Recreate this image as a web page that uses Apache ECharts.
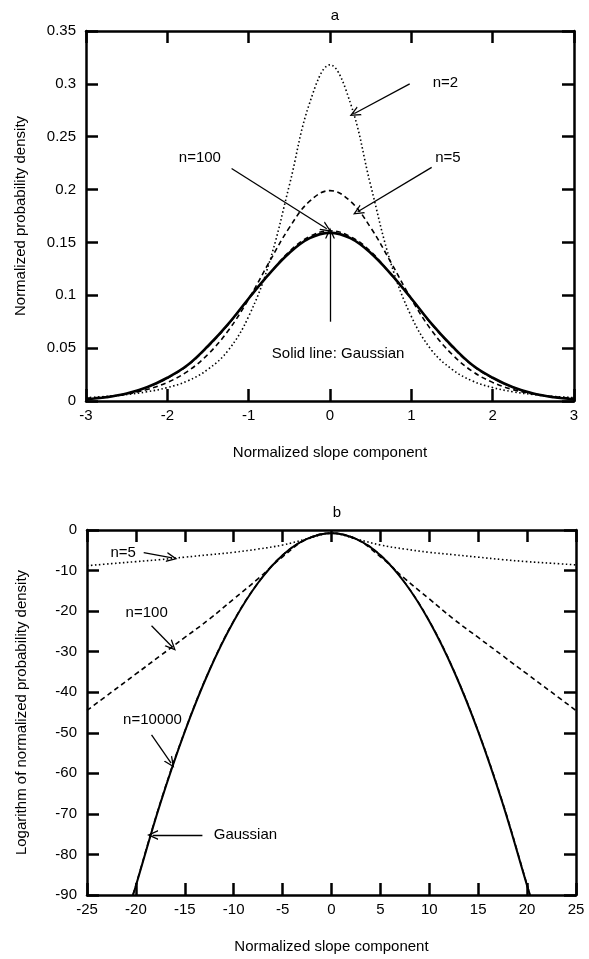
<!DOCTYPE html>
<html>
<head>
<meta charset="utf-8">
<script src="https://cdn.jsdelivr.net/npm/echarts@6/dist/echarts.min.js"></script>
<style>
  html, body { margin: 0; padding: 0; background: #fff; }
  #main { width: 589px; height: 959px; }
</style>
</head>
<body>
<div id="main"></div>
<script>
// panel a: density vs slope component
var xA = [-3, -2.75, -2.5, -2.25, -2, -1.75, -1.5, -1.25, -1, -0.75, -0.5, -0.25, 0,
  0.25, 0.5, 0.75, 1, 1.25, 1.5, 1.75, 2, 2.25, 2.5, 2.75, 3]
var gaussA = [0.0018, 0.0036, 0.007, 0.013, 0.022, 0.034, 0.052, 0.073, 0.097, 0.120, 0.140, 0.154, 0.159,
  0.154, 0.140, 0.120, 0.097, 0.073, 0.052, 0.034, 0.022, 0.013, 0.007, 0.0036, 0.0018]
var n2A = [0.0032, 0.0043, 0.0061, 0.0087, 0.0127, 0.019, 0.030, 0.048, 0.080, 0.130, 0.204, 0.282, 0.318,
  0.282, 0.204, 0.130, 0.080, 0.048, 0.030, 0.019, 0.0127, 0.0087, 0.0061, 0.0043, 0.0032]
var n5A = [0.0025, 0.0040, 0.0066, 0.0108, 0.0176, 0.0281, 0.0442, 0.0667, 0.0964, 0.131, 0.164, 0.189, 0.199,
  0.189, 0.164, 0.131, 0.0964, 0.0667, 0.0442, 0.0281, 0.0176, 0.0108, 0.0066, 0.0040, 0.0025]
var n100A = [0.0019, 0.0037, 0.0071, 0.0131, 0.0215, 0.0336, 0.0514, 0.0725, 0.0967, 0.1196, 0.1415, 0.1556, 0.161,
  0.1556, 0.1415, 0.1196, 0.0967, 0.0725, 0.0514, 0.0336, 0.0215, 0.0131, 0.0071, 0.0037, 0.0019]

// panel b: log10 of density
var xB = [-25, -22.5, -20, -17.5, -15, -12.5, -10, -7.5, -5, -2.5, 0,
  2.5, 5, 7.5, 10, 12.5, 15, 17.5, 20, 22.5, 25]
var n5B = [-8.8, -8.3, -7.8, -7.3, -6.7, -6.1, -5.5, -4.7, -3.7, -2.2, -0.8,
  -2.2, -3.7, -4.7, -5.5, -6.1, -6.7, -7.3, -7.8, -8.2, -8.6]
var n100B = [-44.5, -40, -35.5, -31, -26.5, -22, -17, -12, -6.6, -2.2, -0.8,
  -2.2, -6.6, -12, -17, -22, -26.5, -31, -35.5, -40, -44.5]
var xGaussB = [-20.3, -20, -17.5, -15, -12.5, -10, -7.5, -5, -2.5, 0,
  2.5, 5, 7.5, 10, 12.5, 15, 17.5, 20, 20.3]
var gaussB = [-90, -87.7, -67.4, -49.7, -34.7, -22.5, -13.0, -6.2, -2.2, -0.8,
  -2.2, -6.2, -13.0, -22.5, -34.7, -49.7, -67.4, -87.7, -90]
var n10000B = [-90, -87.5, -67.2, -49.6, -34.6, -22.4, -13.0, -6.2, -2.2, -0.8,
  -2.2, -6.2, -13.0, -22.4, -34.6, -49.6, -67.2, -87.5, -90]

// annotation texts and arrows (data coords)
var labelsA = [
  { name: 'n=2', value: [1.42, 0.301] },
  { name: 'n=5', value: [1.45, 0.230] },
  { name: 'n=100', value: [-1.6, 0.230] },
  { name: 'Solid line: Gaussian', value: [0.1, 0.045] }
]
var arrowsA = [
  [[0.98, 0.300], [0.30, 0.272]],
  [[1.25, 0.221], [0.34, 0.179]],
  [[-1.21, 0.220], [-0.04, 0.163]],
  [[0, 0.075], [0, 0.159]]
]
var labelsB = [
  { name: 'n=5', value: [-21.3, -5.6] },
  { name: 'n=100', value: [-18.9, -20.5] },
  { name: 'n=10000', value: [-18.3, -46.8] },
  { name: 'Gaussian', value: [-8.8, -75.2] }
]
var arrowsB = [
  [[-19.2, -5.6], [-16.3, -6.9]],
  [[-18.4, -23.6], [-16.3, -28.8]],
  [[-18.4, -50.5], [-16.4, -57.5]],
  [[-13.2, -75.2], [-18.3, -75.2]]
]

var FONT = 'Liberation Sans'
var FS = 15
var openArrow = 'path://M0,10L5,0L10,10L8.6,10L5,2.8L1.4,10Z'

function pairs (xs, ys) {
  return xs.map(function (x, i) { return [x, ys[i]] })
}

function arrowLines (list) {
  return list.map(function (a) {
    return [{ coord: a[0] }, { coord: a[1] }]
  })
}

function mainX (idx, min, max, interval) {
  return {
    type: 'value', gridIndex: idx, min: min, max: max, interval: interval,
    name: 'Normalized slope component', nameLocation: 'middle', nameGap: 44,
    nameTextStyle: { fontFamily: FONT, fontSize: FS, color: '#000' },
    axisLine: { onZero: false, lineStyle: { color: '#000', width: 2.5 } },
    axisTick: { inside: true, length: 12, lineStyle: { color: '#000', width: 2.5 } },
    axisLabel: { fontFamily: FONT, fontSize: FS, color: '#000', margin: 7 },
    splitLine: { show: false }
  }
}
function mirrorX (idx, min, max, interval) {
  return {
    type: 'value', gridIndex: idx, min: min, max: max, interval: interval, position: 'top',
    axisLine: { onZero: false, lineStyle: { color: '#000', width: 2.5 } },
    axisTick: { inside: true, length: 12, lineStyle: { color: '#000', width: 2.5 } },
    axisLabel: { show: false },
    splitLine: { show: false }
  }
}
function mainY (idx, min, max, interval, name, gap) {
  return {
    type: 'value', gridIndex: idx, min: min, max: max, interval: interval,
    name: name, nameLocation: 'middle', nameGap: gap,
    nameTextStyle: { fontFamily: FONT, fontSize: FS, color: '#000' },
    axisLine: { onZero: false, lineStyle: { color: '#000', width: 2.5 } },
    axisTick: { inside: true, length: 12, lineStyle: { color: '#000', width: 2.5 } },
    axisLabel: { fontFamily: FONT, fontSize: FS, color: '#000', margin: 10 },
    splitLine: { show: false }
  }
}
function mirrorY (idx, min, max, interval) {
  return {
    type: 'value', gridIndex: idx, min: min, max: max, interval: interval, position: 'right',
    axisLine: { onZero: false, lineStyle: { color: '#000', width: 2.5 } },
    axisTick: { inside: true, length: 12, lineStyle: { color: '#000', width: 2.5 } },
    axisLabel: { show: false },
    splitLine: { show: false }
  }
}

function curve (name, xi, yi, data, type, width) {
  return {
    name: name, type: 'line', xAxisIndex: xi, yAxisIndex: yi,
    data: data, smooth: 0.4, showSymbol: false, symbol: 'none', clip: true,
    lineStyle: { color: '#000', width: width, type: type }
  }
}

function notes (xi, yi, labels, arrows) {
  return {
    type: 'scatter', xAxisIndex: xi, yAxisIndex: yi, symbolSize: 0, silent: true,
    data: labels,
    itemStyle: { color: '#000', opacity: 1 },
    label: {
      show: true, position: 'inside', formatter: '{b}', opacity: 1,
      fontFamily: FONT, fontSize: FS, color: '#000', textBorderWidth: 0
    },
    markLine: {
      silent: true, animation: false,
      symbol: ['none', openArrow], symbolSize: [10, 11],
      label: { show: false },
      lineStyle: { color: '#000', width: 1.3, type: 'solid', opacity: 1 },
      data: arrowLines(arrows)
    }
  }
}

var chart = echarts.init(document.getElementById('main'))
chart.setOption({
  animation: false,
  backgroundColor: '#fff',
  title: [
    { text: 'a', left: 330, top: 3, textAlign: 'center',
      textStyle: { fontFamily: FONT, fontSize: FS, fontWeight: 'normal', color: '#000' } },
    { text: 'b', left: 332, top: 500, textAlign: 'center',
      textStyle: { fontFamily: FONT, fontSize: FS, fontWeight: 'normal', color: '#000' } }
  ],
  grid: [
    { left: 86, top: 31, width: 488, height: 370 },
    { left: 87, top: 530, width: 489, height: 365 }
  ],
  xAxis: [
    mainX(0, -3, 3, 1), mirrorX(0, -3, 3, 1),
    mainX(1, -25, 25, 5), mirrorX(1, -25, 25, 5)
  ],
  yAxis: [
    mainY(0, 0, 0.35, 0.05, 'Normalized probability density', 58), mirrorY(0, 0, 0.35, 0.05),
    mainY(1, -90, 0, 10, 'Logarithm of normalized probability density', 58), mirrorY(1, -90, 0, 10)
  ],
  series: [
    curve('n=2', 0, 0, pairs(xA, n2A), [1.5, 2.5], 1.6),
    curve('n=5', 0, 0, pairs(xA, n5A), [5, 3.5], 1.6),
    curve('Gaussian', 0, 0, pairs(xA, gaussA), 'solid', 2.6),
    curve('n=100', 0, 0, pairs(xA, n100A), [5, 3.5], 1.5),
    notes(0, 0, labelsA, arrowsA),

    curve('n=5', 2, 2, pairs(xB, n5B), [1.5, 2.5], 1.6),
    curve('n=100', 2, 2, pairs(xB, n100B), [5, 3.5], 1.6),
    curve('Gaussian', 2, 2, pairs(xGaussB, gaussB), 'solid', 2),
    curve('n=10000', 2, 2, pairs(xGaussB, n10000B), [5, 3.5], 1.5),
    notes(2, 2, labelsB, arrowsB)
  ]
})
</script>
</body>
</html>
